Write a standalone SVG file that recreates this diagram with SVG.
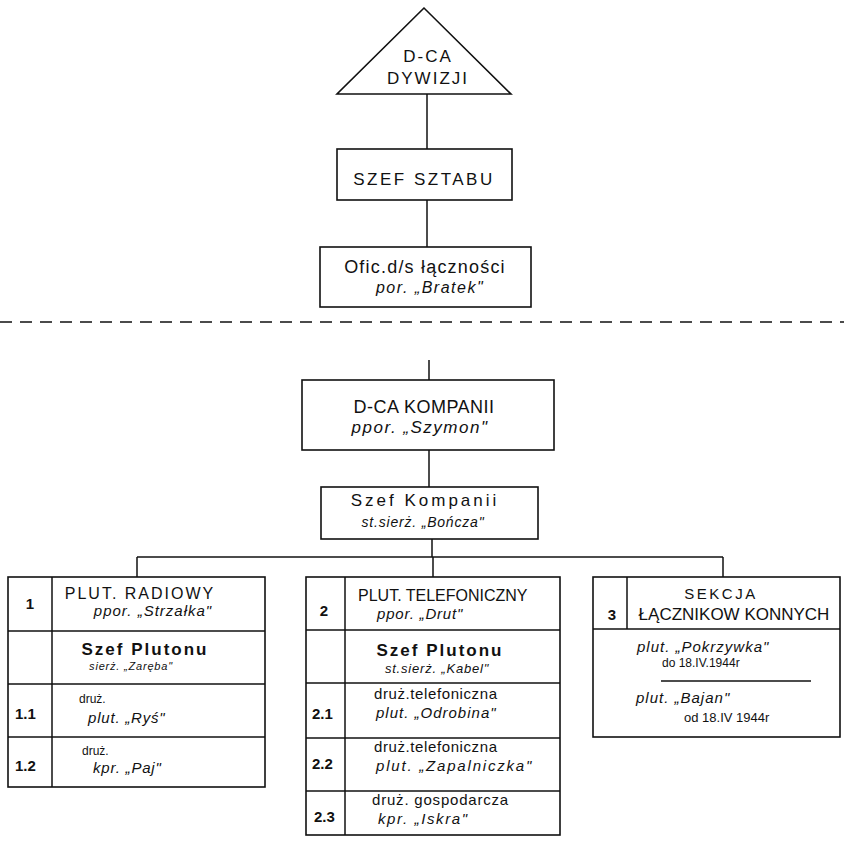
<svg xmlns="http://www.w3.org/2000/svg" width="844" height="845" viewBox="0 0 844 845">
<style>
.b{fill:#fff;stroke:#111;stroke-width:1.6}
.l{stroke:#111;stroke-width:1.5;fill:none}
text{font-family:"Liberation Sans","DejaVu Sans",sans-serif;fill:#111}
.h{font-size:17px;letter-spacing:2px}
.i{font-size:15px;font-style:italic;letter-spacing:0.8px}
.s{font-size:12px}
.n{font-size:15px;font-weight:bold}
.c{text-anchor:middle}
</style>
<rect width="844" height="845" fill="#fff"/>
<g id="connectors">
<line class="l" x1="427" y1="94" x2="427" y2="149"/>
<line class="l" x1="427" y1="200" x2="427" y2="247"/>
<line x1="0" y1="322" x2="844" y2="322" stroke="#111" stroke-width="1.4" stroke-dasharray="12,8"/>
<line class="l" x1="429" y1="360" x2="429" y2="380"/>
<line class="l" x1="429" y1="450" x2="429" y2="487"/>
<line class="l" x1="432" y1="539" x2="432" y2="557"/>
<line class="l" x1="137" y1="557" x2="723" y2="557"/>
<line class="l" x1="137" y1="557" x2="137" y2="577"/>
<line class="l" x1="433" y1="557" x2="433" y2="577"/>
<line class="l" x1="723" y1="557" x2="723" y2="577"/>
</g>
<g id="dca-dywizji">
<polygon class="b" points="424,8 337,94 511,94"/>
<text class="h c" x="428" y="62">D-CA</text>
<text class="h c" x="428" y="84">DYWIZJI</text>
</g>
<g id="szef-sztabu">
<rect class="b" x="337" y="149" width="175" height="51"/>
<text class="c" x="424" y="185" style="font-size:17px;letter-spacing:2.5px">SZEF SZTABU</text>
</g>
<g id="oficer">
<rect class="b" x="320" y="247" width="211" height="60"/>
<text class="c" x="425" y="273" style="font-size:18px;letter-spacing:1.2px">Ofic.d/s  łączności</text>
<text class="i c" x="430" y="293" style="font-size:16px;letter-spacing:1.5px">por. „Bratek"</text>
</g>
<g id="dca-kompanii">
<rect class="b" x="302" y="380" width="252" height="70"/>
<text class="c" x="424" y="413" style="font-size:18px;letter-spacing:0.5px">D-CA KOMPANII</text>
<text class="i c" x="420" y="433" style="font-size:17px;letter-spacing:1.5px">ppor. „Szymon"</text>
</g>
<g id="szef-kompanii">
<rect class="b" x="321" y="487" width="217" height="52"/>
<text class="c" x="425" y="506" style="font-size:17px;letter-spacing:3px">Szef  Kompanii</text>
<text class="i c" x="423" y="527" style="font-size:14px;letter-spacing:0.8px">st.sierż. „Bończa"</text>
</g>
<g id="pluton-1">
<rect class="b" x="8" y="577" width="257" height="210"/>
<line class="l" x1="52" y1="577" x2="52" y2="787"/>
<line class="l" x1="8" y1="631" x2="265" y2="631"/>
<line class="l" x1="8" y1="684" x2="265" y2="684"/>
<line class="l" x1="8" y1="737" x2="265" y2="737"/>
<text class="n c" x="30" y="609">1</text>
<text class="c" x="140" y="599" style="font-size:16px;letter-spacing:2px">PLUT. RADIOWY</text>
<text class="i c" x="153" y="616" style="font-size:15px;letter-spacing:1px">ppor. „Strzałka"</text>
<text class="c" x="145" y="655" style="font-size:17px;font-weight:bold;letter-spacing:2px">Szef Plutonu</text>
<text class="i c" x="131" y="670" style="font-size:11px">sierż. „Zaręba"</text>
<text class="n" x="15" y="719">1.1</text>
<text class="s" x="79" y="703">druż.</text>
<text class="i" x="88" y="723">plut. „Ryś"</text>
<text class="n" x="15" y="771">1.2</text>
<text class="s" x="82" y="755">druż.</text>
<text class="i" x="93" y="773">kpr. „Paj"</text>
</g>
<g id="pluton-2">
<rect class="b" x="306" y="577" width="254" height="258"/>
<line class="l" x1="345" y1="577" x2="345" y2="835"/>
<line class="l" x1="306" y1="630" x2="560" y2="630"/>
<line class="l" x1="306" y1="683" x2="560" y2="683"/>
<line class="l" x1="306" y1="738" x2="560" y2="738"/>
<line class="l" x1="306" y1="791" x2="560" y2="791"/>
<text class="n c" x="324" y="616">2</text>
<text x="358" y="601" style="font-size:16px">PLUT. TELEFONICZNY</text>
<text class="i" x="377" y="619">ppor. „Drut"</text>
<text class="c" x="440" y="656" style="font-size:17px;font-weight:bold;letter-spacing:2px">Szef Plutonu</text>
<text class="i c" x="437" y="673" style="font-size:13px">st.sierż. „Kabel"</text>
<text class="n" x="312" y="719">2.1</text>
<text x="374" y="699" style="font-size:15px;letter-spacing:0.6px">druż.telefoniczna</text>
<text class="i" x="376" y="718" style="letter-spacing:1px">plut. „Odrobina"</text>
<text class="n" x="312" y="769">2.2</text>
<text x="374" y="752" style="font-size:15px;letter-spacing:0.6px">druż.telefoniczna</text>
<text class="i" x="376" y="771" style="letter-spacing:1.8px">plut. „Zapalniczka"</text>
<text class="n" x="314" y="822">2.3</text>
<text x="372" y="805" style="font-size:15px;letter-spacing:0.8px">druż. gospodarcza</text>
<text class="i" x="378" y="824" style="letter-spacing:1.6px">kpr. „Iskra"</text>
</g>
<g id="sekcja-3">
<rect class="b" x="593" y="577" width="247" height="160"/>
<line class="l" x1="627" y1="577" x2="627" y2="629"/>
<line class="l" x1="593" y1="629" x2="840" y2="629"/>
<line class="l" x1="661" y1="681" x2="811" y2="681"/>
<text class="n c" x="612" y="620">3</text>
<text class="c" x="721" y="599" style="font-size:15px;letter-spacing:2.5px">SEKCJA</text>
<text class="c" x="734" y="620" style="font-size:17px">ŁĄCZNIKOW KONNYCH</text>
<text class="i" x="637" y="652" style="letter-spacing:1px">plut. „Pokrzywka"</text>
<text class="s" x="662" y="667">do 18.IV.1944r</text>
<text class="i" x="636" y="703" style="letter-spacing:1px">plut. „Bajan"</text>
<text class="s" x="684" y="722" style="font-size:13px">od 18.IV 1944r</text>
</g>
</svg>
